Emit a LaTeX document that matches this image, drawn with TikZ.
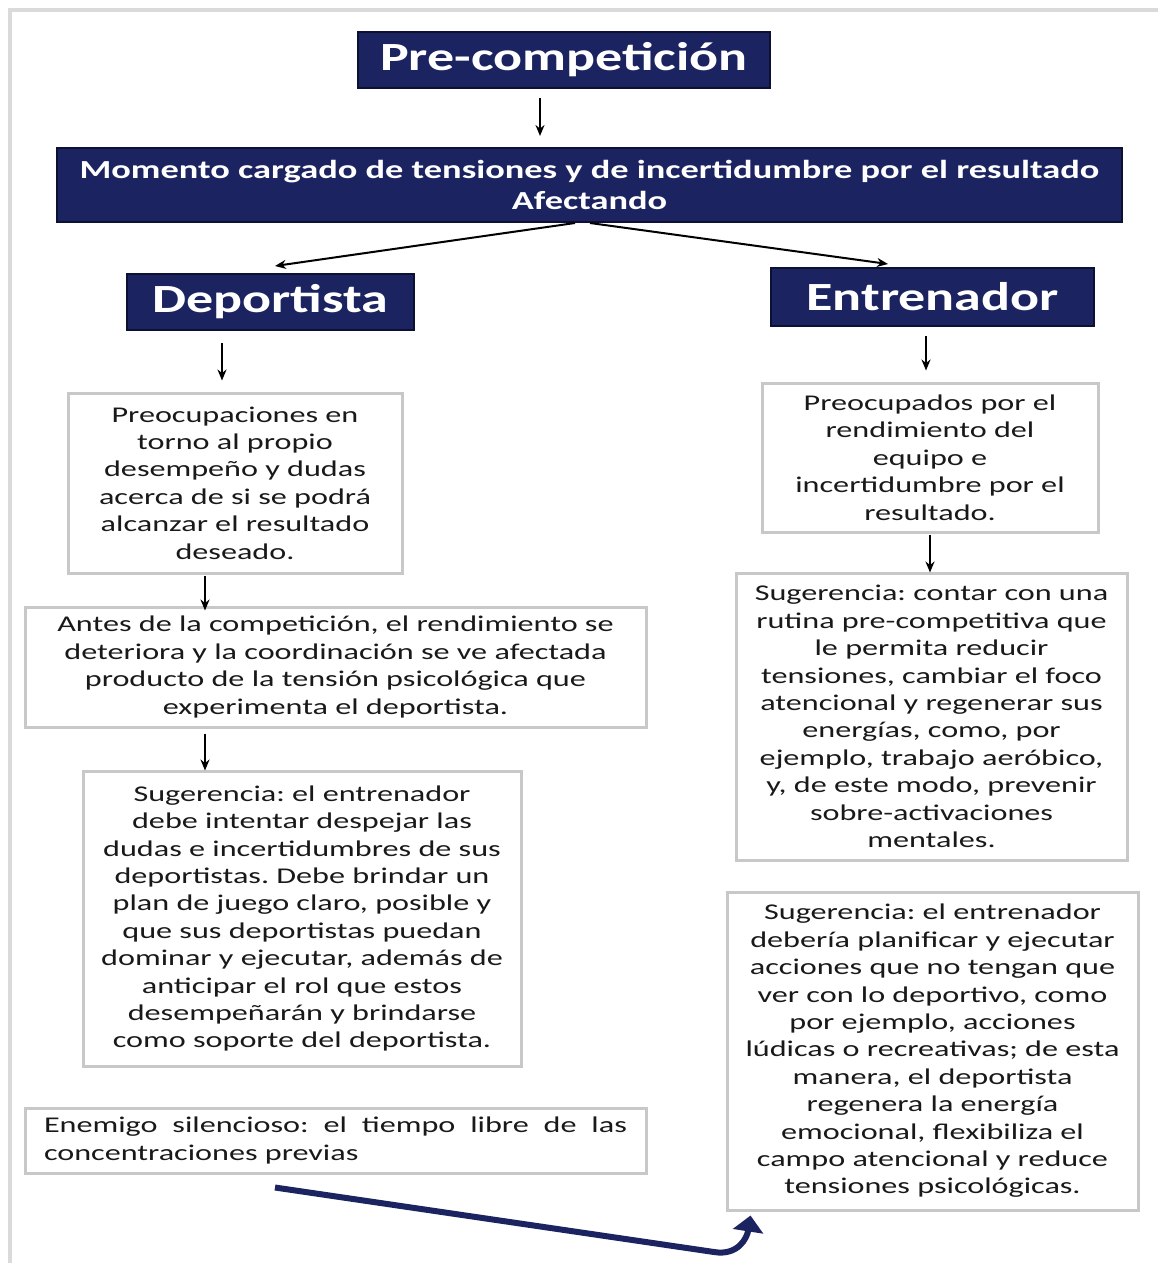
\documentclass[tikz,border=0pt]{standalone}
\usepackage{fontspec}
\setmainfont{Carlito}
\newfontfamily\bodyfont[FakeStretch=1.43]{Carlito}
\newfontfamily\headfont[FakeStretch=1.35]{Carlito}
\newfontfamily\momfont[FakeStretch=1.4]{Carlito}
\usetikzlibrary{arrows.meta}
\definecolor{navy}{RGB}{27,36,96}
\definecolor{navyedge}{RGB}{12,16,50}
\definecolor{boxgray}{RGB}{200,200,200}
\definecolor{framegray}{RGB}{218,218,218}
\definecolor{txt}{RGB}{25,25,25}
\frenchspacing
\begin{document}
\frenchspacing
\begin{tikzpicture}[x=1pt,y=-1pt,
  head/.style={draw=navyedge, line width=2pt, fill=navy, text=white, inner sep=0pt, align=center},
  bighead/.style={head, font={\headfont\bfseries\fontsize{40}{44}\selectfont}},
  body/.style={draw=boxgray, line width=3pt, fill=white, text=txt, inner sep=0pt, align=center,
               font={\bodyfont\frenchspacing\fontsize{22.5}{27.4}\selectfont}},
  arr/.style={-{Stealth[length=11pt,width=9pt]}, line width=2pt, black},
  bigarr/.style={-{Triangle[length=16pt,width=30pt]}, line width=6pt, navy}]
\useasboundingbox (0,0) rectangle (1158,1263);
\fill[white] (0,0) rectangle (1158,1263);
\draw[framegray, line width=4pt] (10,1263) -- (10,10) -- (1158,10);

% header boxes
\node[bighead, minimum width=412pt, minimum height=56pt] (pre) at (564,60) {Pre-competición};
\node[head, minimum width=1065pt, minimum height=74pt,
      font={\momfont\bfseries\fontsize{26}{31}\selectfont}] (mom) at (589.5,185)
  {Momento cargado de tensiones y de incertidumbre por el resultado\\ Afectando};
\node[bighead, minimum width=287pt, minimum height=56pt] (dep) at (270.5,302) {Deportista};
\node[bighead, minimum width=323pt, minimum height=58pt] (ent) at (932.5,297) {Entrenador};

% left column
\node[body, minimum width=334pt, minimum height=180pt] (pl) at (235,483)
  {Preocupaciones en\\ torno al propio\\ desempeño y dudas\\ acerca de si se podrá\\ alcanzar el resultado\\ deseado.};
\node[body, minimum width=621pt, minimum height=120pt] (an) at (335.5,667)
  {Antes de la competición, el rendimiento se\\ deteriora y la coordinación se ve afectada\\ producto de la tensión psicológica que\\ experimenta el deportista.};
\node[body, minimum width=438pt, minimum height=295pt] (s1) at (302,918.5)
  {Sugerencia: el entrenador\\ debe intentar despejar las\\ dudas e incertidumbres de sus\\ deportistas. Debe brindar un\\ plan de juego claro, posible y\\ que sus deportistas puedan\\ dominar y ejecutar, además de\\ anticipar el rol que estos\\ desempeñarán y brindarse\\ como soporte del deportista.};
\node[body, minimum width=621pt, minimum height=65pt, text width=583pt, align=justify] (en) at (335.5,1140.5)
  {Enemigo silencioso: el tiempo libre de las\linebreak concentraciones previas};

% right column
\node[body, minimum width=336pt, minimum height=149pt] (pr) at (930,457.5)
  {Preocupados por el\\ rendimiento del\\ equipo e\\ incertidumbre por el\\ resultado.};
\node[body, minimum width=391pt, minimum height=287pt] (s2) at (931.5,716.5)
  {Sugerencia: contar con una\\ rutina pre-competitiva que\\ le permita reducir\\ tensiones, cambiar el foco\\ atencional y regenerar sus\\ energías, como, por\\ ejemplo, trabajo aeróbico,\\ y, de este modo, prevenir\\ sobre-activaciones\\ mentales.};
\node[body, minimum width=411pt, minimum height=318pt] (s3) at (932.5,1051)
  {Sugerencia: el entrenador\\ debería planificar y ejecutar\\ acciones que no tengan que\\ ver con lo deportivo, como\\ por ejemplo, acciones\\ lúdicas o recreativas; de esta\\ manera, el deportista\\ regenera la energía\\ emocional, flexibiliza el\\ campo atencional y reduce\\ tensiones psicológicas.};

% connectors
\draw[arr] ([xshift=-24pt,yshift=-9pt]pre.south) -- ([xshift=-49.5pt,yshift=11pt]mom.north);
\draw[arr] ([xshift=-14.5pt]mom.south) -- ([xshift=4.5pt,yshift=7pt]dep.north);
\draw[arr] ([xshift=0.5pt]mom.south) -- ([xshift=-44.5pt,yshift=3pt]ent.north);
\draw[arr] ([xshift=-48.5pt,yshift=-12pt]dep.south) -- ([xshift=-13pt,yshift=11pt]pl.north);
\draw[arr] ([xshift=-30pt,yshift=-1pt]pl.south) -- ([xshift=-130.5pt,yshift=-5pt]an.north);
\draw[arr] ([xshift=-130.5pt,yshift=-5pt]an.south) -- ([xshift=-97pt,yshift=-1pt]s1.north);
\draw[arr] ([xshift=-6.5pt,yshift=-9pt]ent.south) -- ([xshift=-4pt,yshift=11pt]pr.north);
\draw[arr] ([yshift=-1pt]pr.south) -- ([xshift=-1.5pt,yshift=-1pt]s2.north);

\coordinate (cb) at (714,1252);
\draw[bigarr] ([xshift=-60.5pt,yshift=-13pt]en.south) -- (cb)
  .. controls (738,1256) and (747,1238) .. ([xshift=25pt,yshift=-4pt]s3.south west);
\end{tikzpicture}
\end{document}
